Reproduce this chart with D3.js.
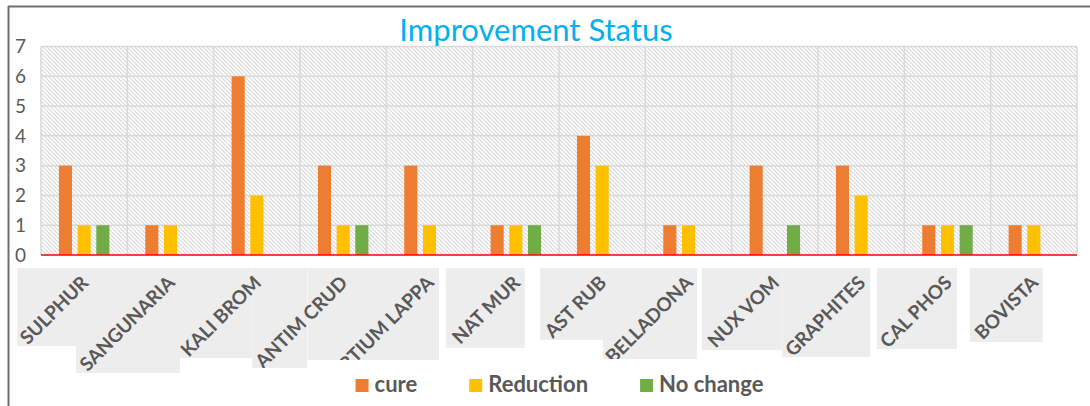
<!DOCTYPE html>
<html>
<head>
<meta charset="utf-8">
<script src="https://cdn.jsdelivr.net/npm/d3@7"></script>
<style>
  body { margin: 0; background: #fff; }
  svg { display: block; font-family: Lato, "Open Sans", sans-serif; }
</style>
</head>
<body>
<svg id="chart" width="1090" height="406"></svg>
<script>
// data
const remedies = ['SULPHUR', 'SANGUNARIA', 'KALI BROM', 'ANTIM CRUD', 'ARTIUM LAPPA', 'NAT MUR',
    'AST RUB', 'BELLADONA', 'NUX VOM', 'GRAPHITES', 'CAL PHOS', 'BOVISTA']
const cure = [3, 1, 6, 3, 3, 1, 4, 1, 3, 3, 1, 1]
const reduction = [1, 1, 2, 1, 1, 1, 3, 1, 0, 2, 1, 1]
const noChange = [1, 0, 0, 1, 0, 1, 0, 0, 1, 0, 1, 0]
const seriesNames = ['cure', 'Reduction', 'No change']
const yTicks = [0, 1, 2, 3, 4, 5, 6, 7]

const seriesColors = ['#ED7D31', '#FFC000', '#70AD47']

// grey label boxes under the axis: [left offset, right offset, bottom] from category centre
const labelBox = [[-67, -8, 346], [-94.5, 9.5, 373], [-77, -5, 358], [-91, -36, 368],
    [-122, 9.5, 360], [-70, 9, 348], [-62, 1, 340], [-85.5, 8.5, 359],
    [-73, 7, 350], [-79, 9, 357], [-70.5, 9.5, 349], [-64, 9, 342]]

const plot = { left: 41, right: 1077, top: 46.5, bottom: 255 }
const textColor = '#595959'

const svg = d3.select('#chart')

const rows = remedies.map((r, i) => ({ name: r, values: [cure[i], reduction[i], noChange[i]] }))

const x0 = d3.scaleBand()
    .domain(remedies)
    .range([plot.left, plot.right])
    .paddingInner(0)

const x1 = d3.scaleBand()
    .domain(seriesNames)
    .range([0, x0.bandwidth()])
    .paddingInner(0.3)
    .paddingOuter(0.96)

const yScale = d3.scaleLinear()
    .domain([0, 7])
    .range([plot.bottom, plot.top])

// outer frame (only top and left show)
svg.append('line')
    .attr('x1', 8).attr('x2', 1090).attr('y1', 6.5).attr('y2', 6.5)
    .attr('stroke', '#6e6e6e').attr('stroke-width', 2)
svg.append('line')
    .attr('x1', 8.5).attr('x2', 8.5).attr('y1', 6).attr('y2', 406)
    .attr('stroke', '#6e6e6e').attr('stroke-width', 2)

// hatched plot background
const defs = svg.append('defs')
defs.append('pattern')
    .attr('id', 'hatch')
    .attr('patternUnits', 'userSpaceOnUse')
    .attr('width', 4).attr('height', 4)
    .append('path')
    .attr('d', 'M-1,-1L5,5M-1,3L1,5M3,-1L5,1')
    .attr('stroke', '#d6d6d6')
    .attr('stroke-width', 1.1)

svg.append('rect')
    .attr('x', plot.left).attr('y', plot.top)
    .attr('width', plot.right - plot.left).attr('height', plot.bottom - plot.top)
    .attr('fill', 'url(#hatch)')

// gridlines
svg.append('g')
    .selectAll('line')
    .data(yTicks.filter(d => d > 0))
    .join('line')
    .attr('x1', plot.left).attr('x2', plot.right)
    .attr('y1', d => yScale(d)).attr('y2', d => yScale(d))
    .attr('stroke', '#d9d9d9').attr('stroke-width', 1.5)

svg.append('g')
    .selectAll('line')
    .data(remedies.map(r => x0(r)).concat([plot.right]))
    .join('line')
    .attr('x1', d => d).attr('x2', d => d)
    .attr('y1', plot.top).attr('y2', plot.bottom)
    .attr('stroke', '#d9d9d9').attr('stroke-width', 1.5)

// y tick labels
svg.append('g')
    .selectAll('text')
    .data(yTicks)
    .join('text')
    .attr('x', 26)
    .attr('y', d => yScale(d))
    .attr('dy', '0.35em')
    .attr('text-anchor', 'end')
    .attr('fill', textColor)
    .style('font-size', '19px')
    .text(d => d)

// bars
const groups = svg.append('g')
    .selectAll('g')
    .data(rows)
    .join('g')
    .attr('transform', d => 'translate(' + x0(d.name) + ',0)')

groups.selectAll('rect')
    .data(d => d.values.map((v, i) => ({ key: seriesNames[i], value: v, color: seriesColors[i] })))
    .join('rect')
    .filter(d => d.value > 0)
    .attr('x', d => x1(d.key))
    .attr('width', x1.bandwidth())
    .attr('y', d => yScale(d.value))
    .attr('height', d => yScale(0) - yScale(d.value))
    .attr('fill', d => d.color)

// red baseline
svg.append('line')
    .attr('x1', plot.left).attr('x2', plot.right)
    .attr('y1', yScale(0)).attr('y2', yScale(0))
    .attr('stroke', '#ff0000').attr('stroke-width', 1.5)

// category labels with grey boxes
const boxTop = 268
const centre = r => x0(r) + x0.bandwidth() / 2

svg.append('g')
    .selectAll('rect')
    .data(remedies)
    .join('rect')
    .attr('x', (r, i) => centre(r) + labelBox[i][0])
    .attr('y', boxTop)
    .attr('width', (r, i) => labelBox[i][1] - labelBox[i][0])
    .attr('height', (r, i) => labelBox[i][2] - boxTop)
    .attr('fill', '#ededed')

remedies.forEach((r, i) => {
    defs.append('clipPath')
        .attr('id', 'lab' + i)
        .append('rect')
        .attr('x', centre(r) + labelBox[i][0])
        .attr('y', boxTop)
        .attr('width', 22 - labelBox[i][0])
        .attr('height', labelBox[i][2] - boxTop)
})

svg.append('g')
    .selectAll('g')
    .data(remedies)
    .join('g')
    .attr('clip-path', (r, i) => 'url(#lab' + i + ')')
    .append('text')
    .attr('transform', r => 'translate(' + (centre(r) + 5.5) + ',284) rotate(-45)')
    .attr('text-anchor', 'end')
    .attr('fill', textColor)
    .style('font-size', '19px')
    .style('font-weight', 'bold')
    .text(r => r)

// title
svg.append('text')
    .attr('x', 536)
    .attr('y', 41)
    .attr('text-anchor', 'middle')
    .attr('fill', '#00B0F0')
    .style('font-size', '31px')
    .text('Improvement Status')

// legend
const legend = svg.append('g')
const items = legend.selectAll('g')
    .data(seriesNames)
    .join('g')
items.append('rect')
    .attr('width', 13).attr('height', 13)
    .attr('y', 379)
    .attr('fill', (d, i) => seriesColors[i])
items.append('text')
    .attr('x', 19)
    .attr('y', 391.5)
    .attr('fill', textColor)
    .style('font-size', '22px')
    .style('font-weight', 'bold')
    .text(d => d)

let lx = 0
const offsets = []
items.each(function () {
    offsets.push(lx)
    lx += 19 + this.querySelector('text').getComputedTextLength() + 52
})
const legendWidth = lx - 52
const legendStart = 559.5 - legendWidth / 2
items.attr('transform', (d, i) => 'translate(' + (legendStart + offsets[i]) + ',0)')
</script>
</body>
</html>
